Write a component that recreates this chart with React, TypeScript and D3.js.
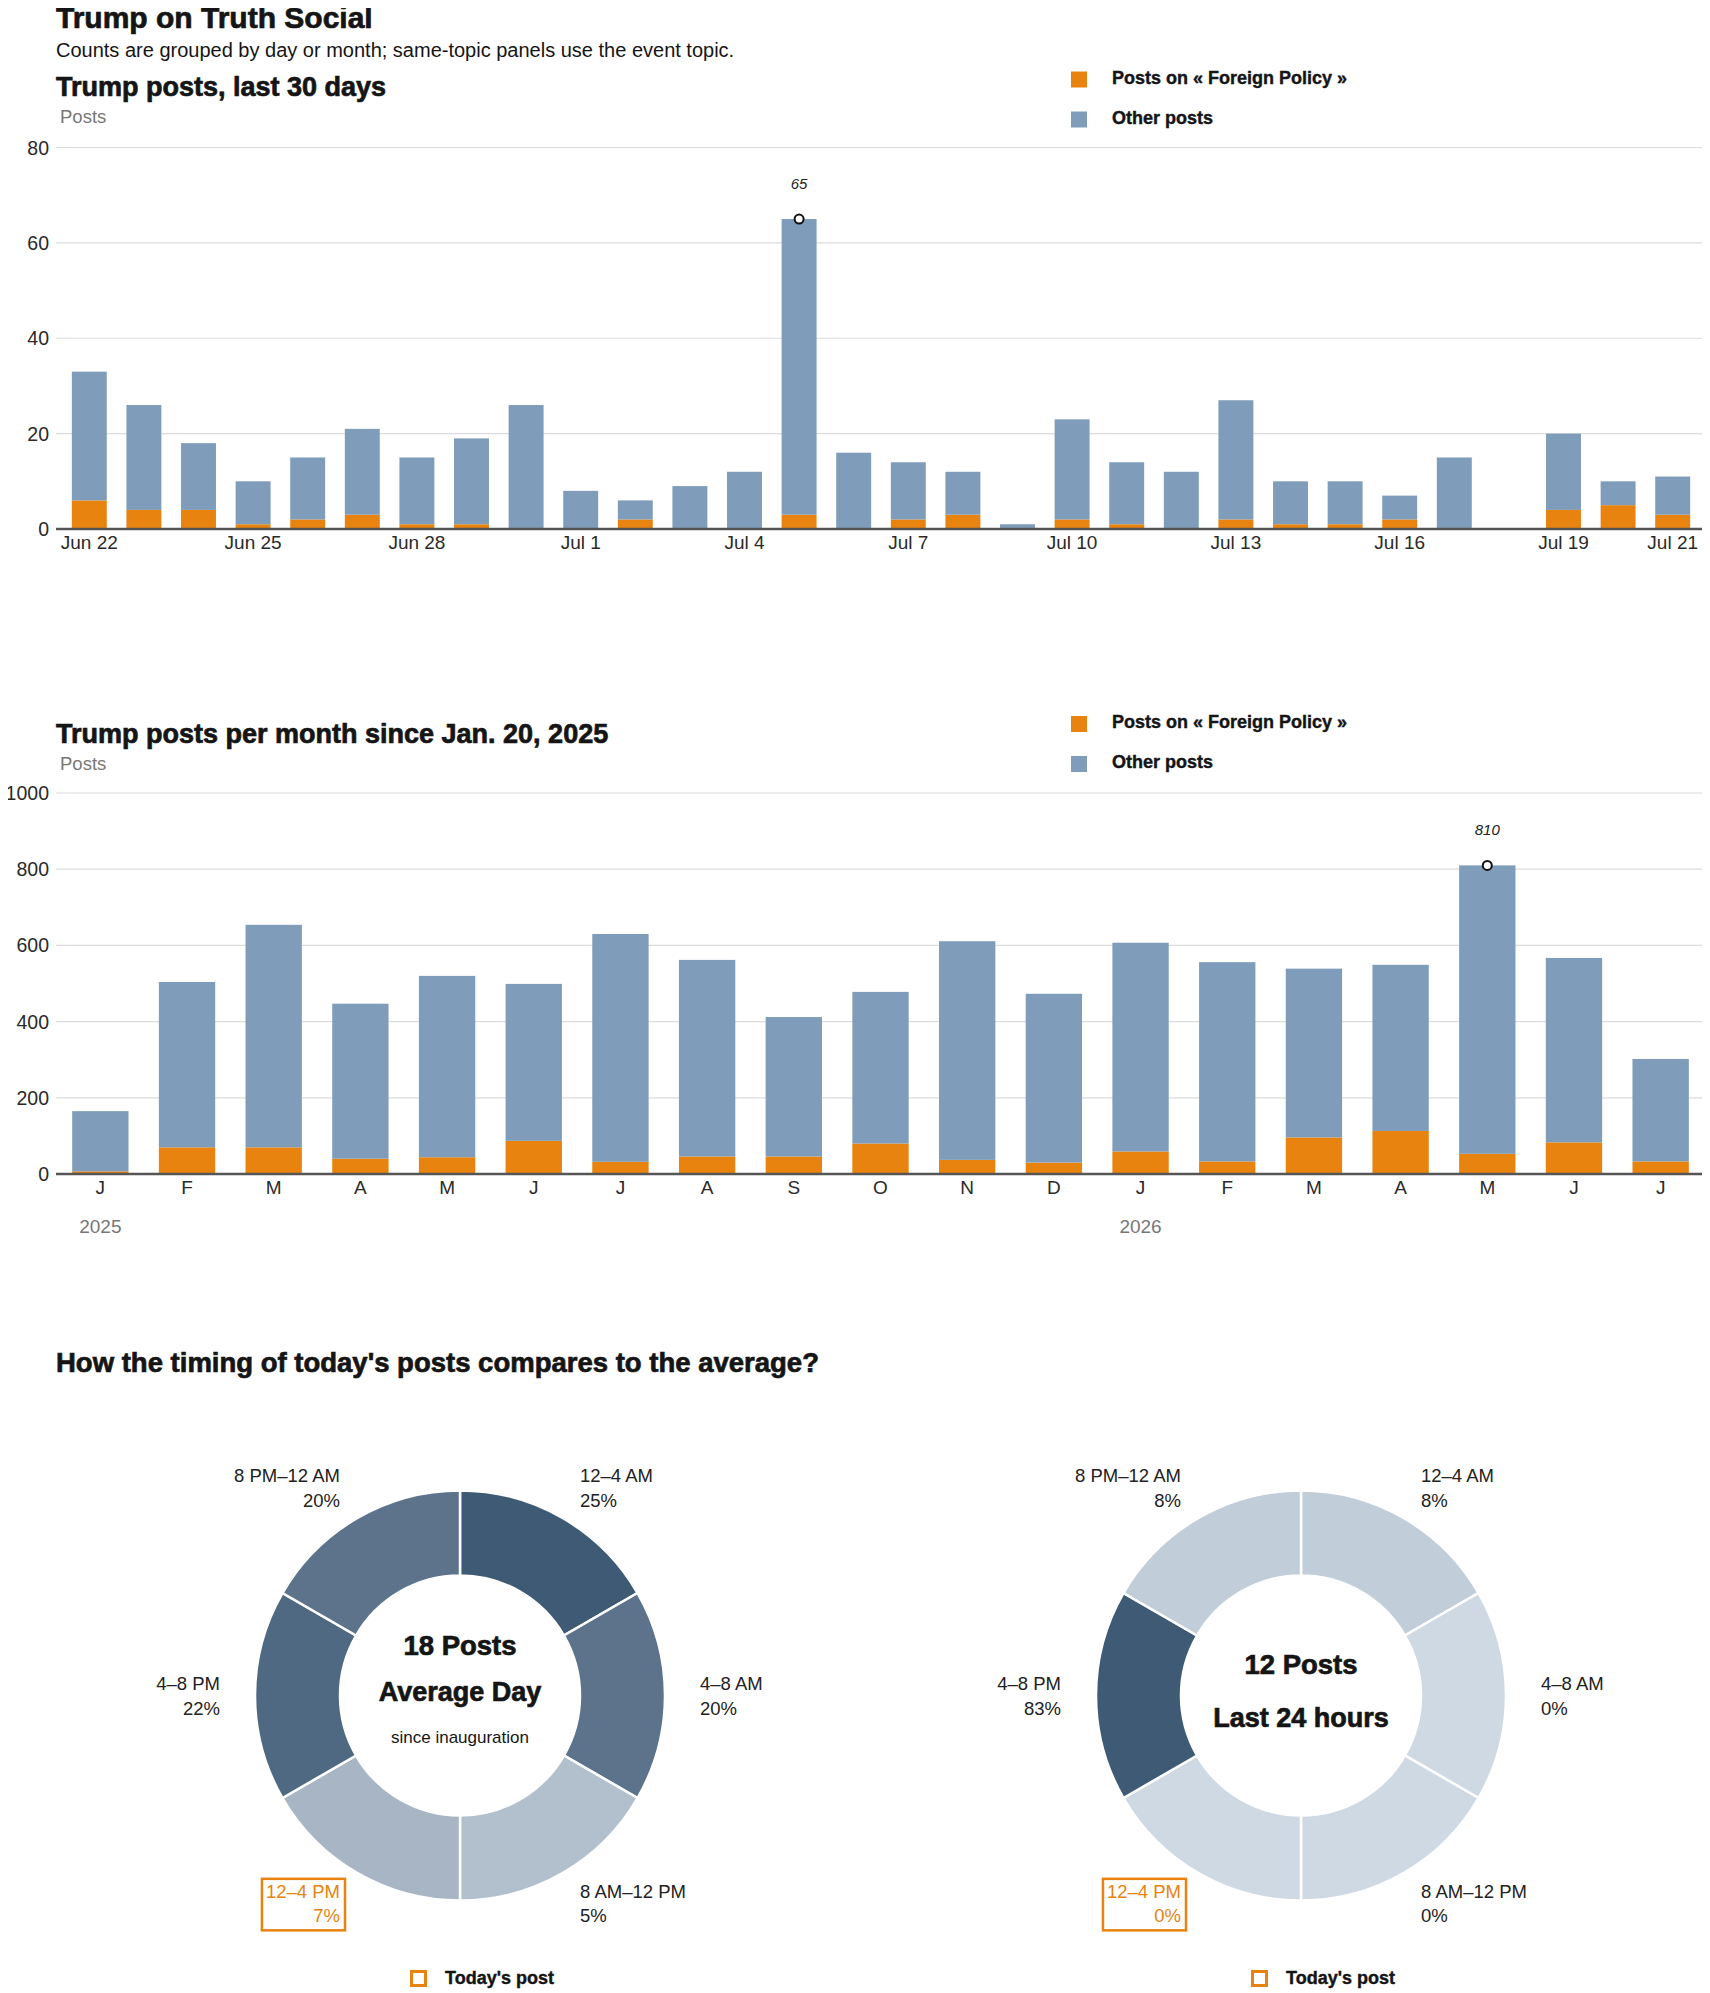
import { useEffect, useRef } from 'react';
import * as d3 from 'd3';

// ---- data ----
const dayLabels = [
  'Jun 22', 'Jun 23', 'Jun 24', 'Jun 25', 'Jun 26', 'Jun 27', 'Jun 28', 'Jun 29', 'Jun 30',
  'Jul 1', 'Jul 2', 'Jul 3', 'Jul 4', 'Jul 5', 'Jul 6', 'Jul 7', 'Jul 8', 'Jul 9', 'Jul 10',
  'Jul 11', 'Jul 12', 'Jul 13', 'Jul 14', 'Jul 15', 'Jul 16', 'Jul 17', 'Jul 18', 'Jul 19',
  'Jul 20', 'Jul 21',
];
const dayTickLabels = ['Jun 22', 'Jun 25', 'Jun 28', 'Jul 1', 'Jul 4', 'Jul 7', 'Jul 10', 'Jul 13', 'Jul 16', 'Jul 19', 'Jul 21'];
const dailyTotal = [33, 26, 18, 10, 15, 21, 15, 19, 26, 8, 6, 9, 12, 65, 16, 14, 12, 1, 23, 14, 12, 27, 10, 10, 7, 15, 0, 20, 10, 11];
const dailyForeign = [6, 4, 4, 1, 2, 3, 1, 1, 0, 0, 2, 0, 0, 3, 0, 2, 3, 0, 2, 1, 0, 2, 1, 1, 2, 0, 0, 4, 5, 3];
const dailyTicks = [0, 20, 40, 60, 80];

const monthLabels = ['J', 'F', 'M', 'A', 'M', 'J', 'J', 'A', 'S', 'O', 'N', 'D', 'J', 'F', 'M', 'A', 'M', 'J', 'J'];
const monthYears = ['2025', '', '', '', '', '', '', '', '', '', '', '', '2026', '', '', '', '', '', ''];
const monthlyTotal = [165, 504, 654, 447, 520, 499, 630, 562, 412, 478, 611, 473, 607, 556, 539, 549, 810, 567, 302];
const monthlyForeign = [7, 70, 70, 40, 44, 87, 32, 46, 46, 80, 37, 30, 59, 33, 96, 113, 53, 83, 33];
const monthlyTicks = [0, 200, 400, 600, 800, 1000];

const slotLabels = ['12–4 AM', '4–8 AM', '8 AM–12 PM', '12–4 PM', '4–8 PM', '8 PM–12 AM'];
const averageShare = [25, 20, 5, 7, 22, 20];
const todayShare = [8, 0, 0, 0, 83, 8];
const todaySlot = '12–4 PM';

const legendLabels = ['Posts on « Foreign Policy »', 'Other posts'];

const FONT = '"Liberation Sans", Arial, sans-serif';
const ORANGE = '#e8830f';
const BLUE = '#7f9dba';
const TEXT = '#151515';

type Sel = d3.Selection<SVGSVGElement, unknown, null, undefined>;
type G = d3.Selection<SVGGElement, unknown, null, undefined>;

// heavy headline text (a thin stroke thickens the bold face)
const heavy = (g: G | Sel, x: number, y: number, size: number, text: string, anchor = 'start') =>
  g.append('text').attr('x', x).attr('y', y).attr('text-anchor', anchor)
    .attr('font-size', size).attr('font-weight', 700).attr('fill', TEXT)
    .attr('stroke', TEXT).attr('stroke-width', size > 22 ? 0.7 : 0.4)
    .text(text);

interface BarOpts {
  keys: string[];
  totals: number[];
  foreign: number[];
  ticks: number[];
  showTick: (k: string, i: number) => string | null;
  years?: string[];
  range: [number, number];
  padding: number;
  y0: number;
  y1: number;
  title: string;
  titleY: number;
  legendY: number;
}

const drawStacked = (svg: Sel, o: BarOpts) => {
  const g = svg.append('g') as G;
  const ids = o.keys.map((_, i) => String(i));
  const x = d3.scaleBand().domain(ids).range(o.range).paddingInner(o.padding).paddingOuter(o.padding / 2);
  const y = d3.scaleLinear().domain([0, d3.max(o.ticks) as number]).range([o.y0, o.y1]);

  // title + unit
  heavy(g, 56, o.titleY, 27, o.title);
  g.append('text').attr('x', 60).attr('y', o.titleY + 27)
    .attr('font-size', 18.5).attr('fill', '#777').text('Posts');

  // legend
  [ORANGE, BLUE].forEach((c, i) => {
    g.append('rect').attr('x', 1071).attr('y', o.legendY + i * 40).attr('width', 16).attr('height', 16).attr('fill', c);
    heavy(g, 1112, o.legendY + 12 + i * 40, 18, legendLabels[i]);
  });

  // grid + y labels
  o.ticks.forEach(t => {
    if (t > 0) {
      g.append('line').attr('x1', 56).attr('x2', 1708).attr('y1', y(t)).attr('y2', y(t))
        .attr('stroke', '#dcdcdc').attr('stroke-width', 1.2);
    }
    g.append('text').attr('x', 49).attr('y', y(t)).attr('dy', '0.36em').attr('text-anchor', 'end')
      .attr('font-size', 19.5).attr('fill', '#2a2a2a').text(t);
  });

  // stacked bars
  const rows = o.totals.map((t, i) => ({ id: String(i), foreign: o.foreign[i], other: t - o.foreign[i] }));
  const series = d3.stack<{ id: string; foreign: number; other: number }>().keys(['foreign', 'other'])(rows);
  const colors = [ORANGE, BLUE];
  series.forEach((s, si) => {
    g.append('g').selectAll('rect').data(s).enter().append('rect')
      .attr('x', d => x(d.data.id) as number)
      .attr('width', x.bandwidth())
      .attr('y', d => y(d[1]))
      .attr('height', d => y(d[0]) - y(d[1]))
      .attr('fill', colors[si]);
  });

  // baseline
  g.append('line').attr('x1', 56).attr('x2', 1710).attr('y1', o.y0).attr('y2', o.y0)
    .attr('stroke', '#555').attr('stroke-width', 2.5);

  // x labels
  o.keys.forEach((k, i) => {
    const lab = o.showTick(k, i);
    const cx = (x(String(i)) as number) + x.bandwidth() / 2;
    if (lab) {
      g.append('text').attr('x', cx).attr('y', o.y0 + 20).attr('text-anchor', 'middle')
        .attr('font-size', 19).attr('fill', '#2a2a2a').text(lab);
    }
    if (o.years && o.years[i]) {
      g.append('text').attr('x', cx).attr('y', o.y0 + 59).attr('text-anchor', 'middle')
        .attr('font-size', 19).attr('fill', '#777').text(o.years[i]);
    }
  });

  // peak annotation
  const peak = d3.maxIndex(o.totals);
  const px = (x(String(peak)) as number) + x.bandwidth() / 2;
  const py = y(o.totals[peak]);
  g.append('circle').attr('cx', px).attr('cy', py).attr('r', 4.5)
    .attr('fill', '#fff').attr('stroke', '#111').attr('stroke-width', 2);
  g.append('text').attr('x', px).attr('y', py - 30).attr('text-anchor', 'middle')
    .attr('font-size', 15).attr('font-style', 'italic').attr('fill', '#222').text(o.totals[peak]);
};

const drawDonut = (svg: Sel, cx: number, cy: number, shares: number[], center: { text: string; size: number; bold: boolean; dy: number }[]) => {
  const g = svg.append('g') as G;
  const color = d3.scaleLinear<string>().domain([0, d3.max(shares) as number]).range(['#cfd9e3', '#3f5a75']);
  const pie = d3.pie<number>().value(() => 1).sort(null);
  const arc = d3.arc<d3.PieArcDatum<number>>().innerRadius(120).outerRadius(205);
  const arcs = pie(shares);

  g.append('g').attr('transform', `translate(${cx},${cy})`)
    .selectAll('path').data(arcs).enter().append('path')
    .attr('d', arc)
    .attr('fill', d => color(d.data))
    .attr('stroke', '#fff').attr('stroke-width', 2.5);

  arcs.forEach((a, i) => {
    const mid = (a.startAngle + a.endAngle) / 2;
    const lx = cx + 240 * Math.sin(mid);
    const ly = cy - 240 * Math.cos(mid);
    const anchor = Math.sin(mid) > 0.01 ? 'start' : Math.sin(mid) < -0.01 ? 'end' : 'middle';
    const hi = slotLabels[i] === todaySlot;
    const lg = g.append('g');
    lg.append('text').attr('x', lx).attr('y', ly - 5.5).attr('text-anchor', anchor)
      .attr('font-size', 18.5).attr('fill', hi ? ORANGE : '#222').text(slotLabels[i]);
    lg.append('text').attr('x', lx).attr('y', ly + 19).attr('text-anchor', anchor)
      .attr('font-size', 18.5).attr('fill', hi ? ORANGE : '#222').text(`${shares[i]}%`);
    if (hi) {
      const b = (lg.node() as SVGGElement).getBBox();
      lg.append('rect').attr('x', b.x - 4).attr('y', b.y - 2).attr('width', b.width + 9).attr('height', b.height + 6)
        .attr('fill', 'none').attr('stroke', ORANGE).attr('stroke-width', 2.5);
    }
  });

  center.forEach(c => {
    if (c.bold) heavy(g, cx, cy + c.dy, c.size, c.text, 'middle');
    else g.append('text').attr('x', cx).attr('y', cy + c.dy).attr('text-anchor', 'middle')
      .attr('font-size', c.size).attr('fill', TEXT).text(c.text);
  });

  // today's post key
  g.append('rect').attr('x', cx - 48.5).attr('y', 1971.5).attr('width', 14).attr('height', 14)
    .attr('fill', 'none').attr('stroke', ORANGE).attr('stroke-width', 3);
  heavy(g, cx - 15, 1983.5, 18, "Today's post");
};

const App = () => {
  const svgRef = useRef<SVGSVGElement>(null);

  useEffect(() => {
    if (!svgRef.current) return;
    const svg = d3.select(svgRef.current);
    svg.selectAll('*').remove();
    svg.attr('font-family', FONT);

    heavy(svg, 56, 28, 30, 'Trump on Truth Social');
    svg.append('text').attr('x', 56).attr('y', 57).attr('font-size', 20)
      .attr('fill', TEXT).text('Counts are grouped by day or month; same-topic panels use the event topic.');

    drawStacked(svg, {
      keys: dayLabels,
      totals: dailyTotal,
      foreign: dailyForeign,
      ticks: dailyTicks,
      showTick: k => (dayTickLabels.includes(k) ? k : null),
      range: [62, 1700],
      padding: 0.36,
      y0: 529,
      y1: 147.5,
      title: 'Trump posts, last 30 days',
      titleY: 96,
      legendY: 71.5,
    });

    drawStacked(svg, {
      keys: monthLabels,
      totals: monthlyTotal,
      foreign: monthlyForeign,
      ticks: monthlyTicks,
      showTick: k => k,
      years: monthYears,
      range: [57, 1704],
      padding: 0.35,
      y0: 1174,
      y1: 793,
      title: 'Trump posts per month since Jan. 20, 2025',
      titleY: 743,
      legendY: 716,
    });

    heavy(svg, 56, 1371.5, 27.5, "How the timing of today's posts compares to the average?");

    drawDonut(svg, 460, 1695.5, averageShare, [
      { text: '18 Posts', size: 27.5, bold: true, dy: -41 },
      { text: 'Average Day', size: 27, bold: true, dy: 5 },
      { text: 'since inauguration', size: 17, bold: false, dy: 47 },
    ]);
    drawDonut(svg, 1301, 1695.5, todayShare, [
      { text: '12 Posts', size: 27.5, bold: true, dy: -21.5 },
      { text: 'Last 24 hours', size: 27, bold: true, dy: 31.5 },
    ]);
  }, []);

  return (
    <div style={{ position: 'relative', height: 1993 }}>
      <svg ref={svgRef} width={1710} height={1993} style={{ position: 'absolute', left: -8, top: -8 }} />
    </div>
  );
};

export default App;
